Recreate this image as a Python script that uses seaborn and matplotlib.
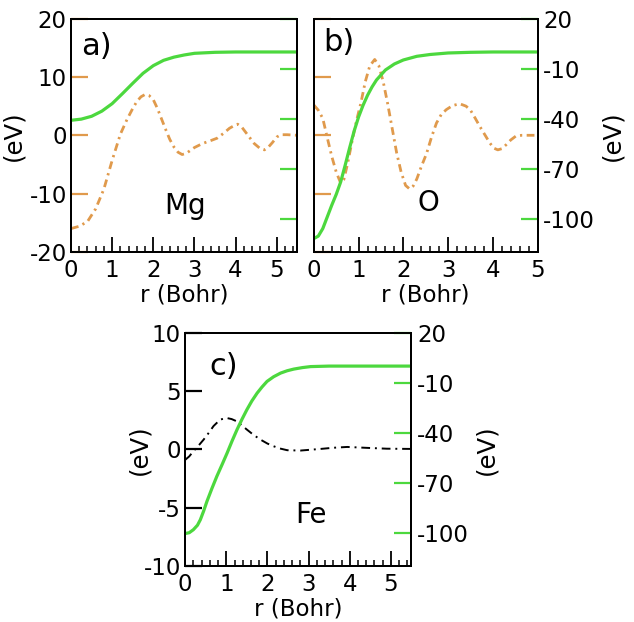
import matplotlib
matplotlib.use("Agg")
import matplotlib.pyplot as plt
from matplotlib.ticker import MultipleLocator
import seaborn as sns

# ---- data ----
# a) Mg
mg_r_diff = [0, 0.2, 0.4, 0.6, 0.8, 1.0, 1.2, 1.36, 1.5, 1.6, 1.7, 1.8, 1.9, 2.0, 2.1, 2.2,
             2.3, 2.4, 2.5, 2.6, 2.7, 2.8, 2.9, 3.0, 3.2, 3.4, 3.55, 3.7, 3.85, 4.0, 4.05,
             4.15, 4.3, 4.45, 4.6, 4.7, 4.8, 4.9, 5.0, 5.1, 5.25, 5.5]
mg_diff = [-16.0, -15.6, -14.8, -12.6, -9.2, -4.3, 0.2, 2.7, 4.6, 5.8, 6.6, 7.0, 6.8, 6.1,
           4.6, 2.8, 1.0, -0.7, -2.0, -2.9, -3.3, -3.1, -2.6, -2.1, -1.4, -0.9, -0.5, 0.3,
           1.2, 1.8, 1.9, 1.4, 0.0, -1.4, -2.3, -2.5, -2.0, -1.2, -0.3, 0.1, 0.1, 0.0]
mg_r_pot = [0, 0.25, 0.5, 0.75, 1.0, 1.25, 1.5, 1.75, 2.0, 2.25, 2.5, 2.75, 3.0, 3.5, 4.0, 5.5]
mg_pot = [-41, -40.3, -38.6, -35.5, -31, -25, -18.8, -12.8, -8.2, -5, -3.1, -1.8, -0.8,
          -0.2, 0, 0]

# b) O
o_r_diff = [0, 0.1, 0.2, 0.3, 0.4, 0.5, 0.6, 0.67, 0.75, 0.85, 0.95, 1.05, 1.15, 1.25,
            1.36, 1.45, 1.55, 1.65, 1.75, 1.85, 1.95, 2.05, 2.14, 2.22, 2.3, 2.4, 2.52,
            2.63, 2.74, 2.85, 2.96, 3.1, 3.26, 3.4, 3.5, 3.6, 3.71, 3.82, 3.93, 4.02, 4.11,
            4.2, 4.3, 4.4, 4.52, 4.65, 5.0]
o_diff = [5.2, 4.3, 2.9, -0.4, -3.6, -6.3, -8.2, -7.6, -5.0, -1.2, 2.4, 5.5, 9.2, 11.9,
          13.0, 12.0, 9.2, 5.4, 1.2, -3.0, -6.3, -8.6, -9.2, -8.7, -7.5, -5.4, -3.1, -0.3,
          2.1, 3.6, 4.4, 5.1, 5.4, 5.0, 4.3, 3.0, 1.5, 0.1, -1.3, -2.2, -2.5, -2.3, -1.6,
          -0.8, -0.1, 0.0, 0.0]
o_r_pot = [0, 0.1, 0.2, 0.3, 0.4, 0.5, 0.6, 0.7, 0.8, 0.9, 1.0, 1.1, 1.2, 1.3, 1.4, 1.6,
           1.8, 2.0, 2.3, 2.6, 3.0, 3.5, 4.0, 5.0]
o_pot = [-112, -110.5, -106, -99, -92, -85.5, -78, -68, -57.5, -47.5, -39, -32, -26, -21,
         -16.8, -10.8, -7.2, -4.8, -2.6, -1.5, -0.6, -0.2, 0, 0]

# c) Fe
fe_r_diff = [0, 0.1, 0.2, 0.32, 0.45, 0.57, 0.69, 0.85, 1.0, 1.13, 1.26, 1.38, 1.5, 1.66,
             1.83, 2.0, 2.15, 2.3, 2.48, 2.8, 3.29, 3.6, 3.94, 4.43, 4.9, 5.5]
fe_diff = [-0.9, -0.6, -0.16, 0.3, 0.84, 1.4, 2.0, 2.55, 2.7, 2.6, 2.4, 2.05, 1.7, 1.25,
           0.84, 0.5, 0.27, 0.08, -0.07, -0.1, 0.04, 0.14, 0.21, 0.13, 0.06, 0.04]
fe_r_pot = [0, 0.1, 0.2, 0.3, 0.37, 0.45, 0.53, 0.65, 0.77, 0.9, 1.02, 1.14, 1.26, 1.38,
            1.5, 1.62, 1.75, 1.87, 1.99, 2.15, 2.32, 2.48, 2.64, 2.85, 3.05, 3.5, 5.5]
fe_pot = [-100.5, -100, -98.2, -95.5, -92.2, -87, -81.2, -73.5, -66.2, -59, -52.2, -45,
          -38.2, -32, -26.2, -21, -16.2, -12.5, -9.2, -6.4, -4.2, -2.8, -1.8, -0.9, -0.3,
          0, 0]

right_ticks = [20, -10, -40, -70, -100]

GREEN = "#4cd83e"
ORANGE = "#e09a4c"

sns.set_style("ticks")
plt.rcParams["font.family"] = ["DejaVu Sans"]
plt.rcParams["axes.linewidth"] = 1.4
plt.rcParams["axes.unicode_minus"] = False
for key in ["text.color", "axes.labelcolor", "xtick.color", "ytick.color",
            "xtick.labelcolor", "ytick.labelcolor", "axes.edgecolor"]:
    plt.rcParams[key] = "black"

fig = plt.figure(figsize=(6.34, 6.22), dpi=100)


def make_panel(rect, xmax, ylim, yticks, tick_color, left_labels, right_labels,
               letter, letter_pos, element, element_pos, left_label_x=None):
    ax = fig.add_axes(rect)
    ax2 = ax.twinx()
    ax.set_xlim(0, xmax)
    ax.set_ylim(*ylim)
    ax2.set_ylim(-120, 20)

    ax.xaxis.set_major_locator(MultipleLocator(1))
    ax.xaxis.set_minor_locator(MultipleLocator(0.2))
    ax.tick_params(axis="x", which="major", direction="in", length=11, width=1.3,
                   labelsize=16.5, top=False, pad=5)
    ax.tick_params(axis="x", which="minor", direction="in", length=4, width=1.1, top=False)

    ax.set_yticks(yticks)
    ax.tick_params(axis="y", direction="in", length=12.5, width=1.6, color=tick_color,
                   labelsize=16.5, labelleft=left_labels, pad=3)
    ax2.set_yticks(right_ticks)
    ax2.tick_params(axis="y", direction="in", length=12.5, width=1.6, color=GREEN,
                    labelsize=16.5, labelright=right_labels, pad=4)

    ax.set_xlabel("r (Bohr)", fontsize=16.5, labelpad=1)
    if left_labels:
        ax.set_ylabel("(eV)", fontsize=17.5, labelpad=3)
        if left_label_x is not None:
            ax.yaxis.set_label_coords(left_label_x, 0.5)
    if right_labels:
        ax2.set_ylabel("(eV)", fontsize=17.5, labelpad=4)

    ax.text(letter_pos[0], letter_pos[1], letter, fontsize=22, va="center", ha="left")
    ax.text(element_pos[0], element_pos[1], element, fontsize=20, va="center", ha="center")
    return ax, ax2


# a) Mg
ax, ax2 = make_panel([0.112, 0.595, 0.357, 0.375], 5.5, (-20, 20), [-20, -10, 0, 10, 20],
                     ORANGE, True, False, "a)", (0.25, 15.2), "Mg", (2.78, -12.1))
sns.lineplot(x=mg_r_diff, y=mg_diff, ax=ax, color=ORANGE, lw=2.0,
             linestyle=(0, (2.8, 1.6, 0.8, 1.6)))
sns.lineplot(x=mg_r_pot, y=mg_pot, ax=ax2, color=GREEN, lw=2.3)

# b) O
ax, ax2 = make_panel([0.495, 0.595, 0.353, 0.375], 5.0, (-20, 20), [-20, -10, 0, 10, 20],
                     ORANGE, False, True, "b)", (0.22, 15.9), "O", (2.57, -11.6))
sns.lineplot(x=o_r_diff, y=o_diff, ax=ax, color=ORANGE, lw=2.0,
             linestyle=(0, (2.8, 1.6, 0.8, 1.6)))
sns.lineplot(x=o_r_pot, y=o_pot, ax=ax2, color=GREEN, lw=2.3)

# c) Fe
ax, ax2 = make_panel([0.292, 0.090, 0.357, 0.375], 5.5, (-10, 10), [-10, -5, 0, 5, 10],
                     "black", True, True, "c)", (0.6, 7.1), "Fe", (3.05, -5.6),
                     left_label_x=-0.15)
sns.lineplot(x=fe_r_diff, y=fe_diff, ax=ax, color="black", lw=1.4,
             linestyle=(0, (4.5, 2.5, 1, 2.5)))
sns.lineplot(x=fe_r_pot, y=fe_pot, ax=ax2, color=GREEN, lw=2.3)

fig.savefig("out.png", dpi=100)
